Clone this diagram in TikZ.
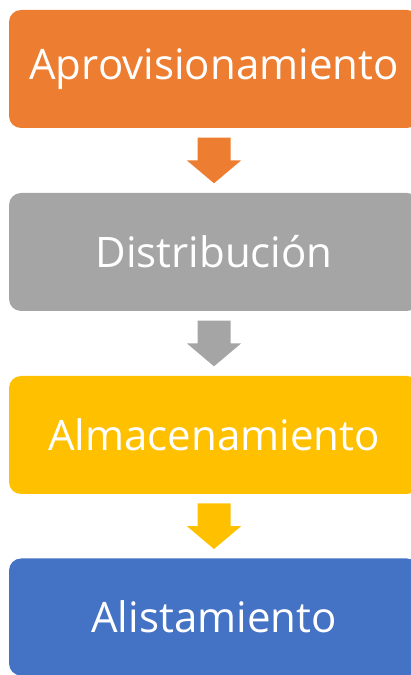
\documentclass[tikz,border=0pt]{standalone}
\usepackage{fontspec}
\setmainfont{Open Sans}
\usetikzlibrary{calc}
\definecolor{morange}{HTML}{ED7D31}
\definecolor{mgray}{HTML}{A5A5A5}
\definecolor{mgold}{HTML}{FFC000}
\definecolor{mblue}{HTML}{4472C4}
\tikzset{etapa/.style = {rectangle, rounded corners = 12pt, minimum width = 410pt,
                         minimum height = 118pt, inner sep = 0, text = white,
                         font = \fontsize{42}{48}\selectfont}}
\newcommand{\flecha}[3]{%
  \coordinate (m) at ($(#1.south)!0.5!(#2.north)$);
  \fill [#3] ($(m)+(-16.5,22.8)$) -- ($(m)+(16.5,22.8)$) -- ($(m)+(16.5,0)$)
    -- ($(m)+(27,0)$) -- ($(m)+(0,-22.8)$) -- ($(m)+(-27,0)$) -- ($(m)+(-16.5,0)$) -- cycle;}

\begin{document}
\begin{tikzpicture}[x=1pt, y=1pt]
    \useasboundingbox (0, 0) rectangle (411, 675);
    \begin{scope}
      \clip (0, 0) rectangle (411, 675);

      \node (aprov) at (214, 606) [etapa, fill=morange] {Aprovisionamiento};
      \node (distr) at (214, 423) [etapa, fill=mgray] {Distribución};
      \node (almac) at (214, 240) [etapa, fill=mgold] {Almacenamiento};
      \node (alist) at (214, 58) [etapa, fill=mblue, minimum height=117pt] {Alistamiento};

      \flecha{aprov}{distr}{morange}
      \flecha{distr}{almac}{mgray}
      \flecha{almac}{alist}{mgold}
    \end{scope}
  \end{tikzpicture}
\end{document}
